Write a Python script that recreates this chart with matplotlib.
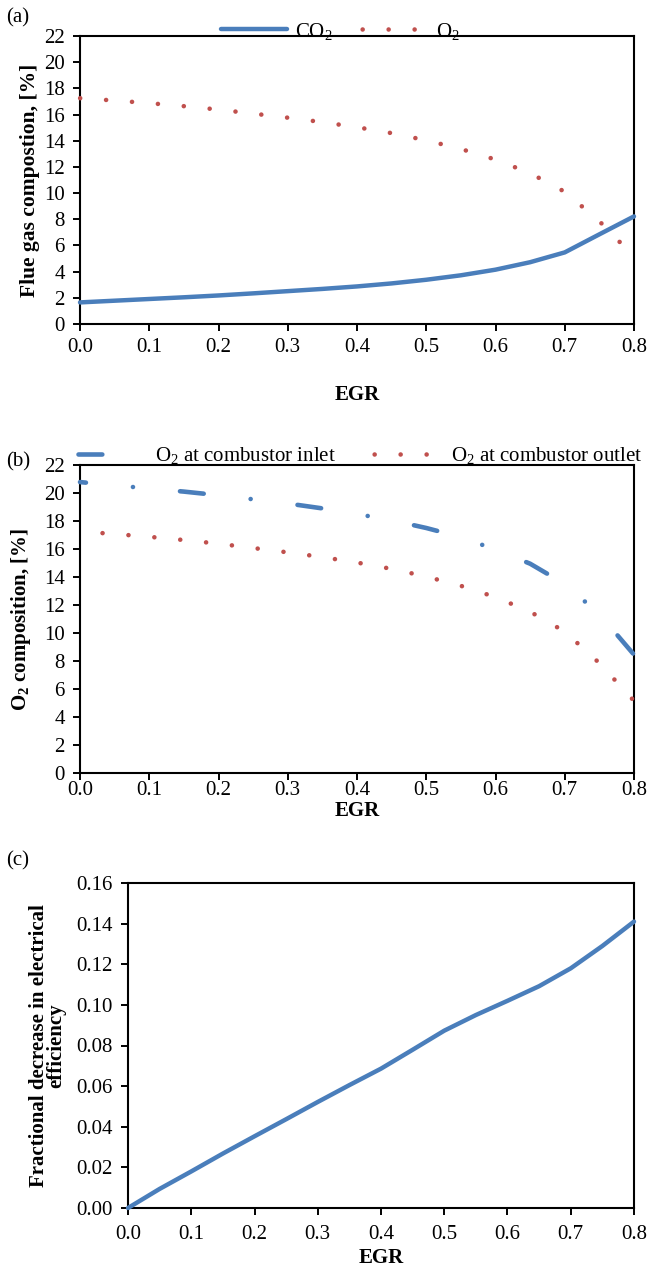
import numpy as np
import matplotlib
matplotlib.use("Agg")
import matplotlib.pyplot as plt
from matplotlib.lines import Line2D

# --- data ---
egr = [0.00, 0.05, 0.10, 0.15, 0.20, 0.25, 0.30, 0.35, 0.40,
       0.45, 0.50, 0.55, 0.60, 0.65, 0.70, 0.75, 0.80]

co2_flue = [1.65, 1.78, 1.91, 2.04, 2.18, 2.34, 2.51, 2.68, 2.87,
            3.10, 3.38, 3.72, 4.15, 4.72, 5.47, 6.85, 8.22]

o2_outlet = [17.25, 17.07, 16.87, 16.64, 16.38, 16.07, 15.76, 15.42, 15.03,
             14.58, 14.03, 13.37, 12.56, 11.52, 10.10, 7.85, 5.15]

o2_inlet = [20.78, 20.55, 20.32, 20.10, 19.84, 19.55, 19.25, 18.90, 18.50,
            18.05, 17.50, 16.85, 15.95, 14.95, 13.50, 11.35, 8.45]

eff_drop = [0.000, 0.0094, 0.0180, 0.0268, 0.0353, 0.0437, 0.0522, 0.0605, 0.0686,
            0.0779, 0.0873, 0.0950, 0.1020, 0.1092, 0.1180, 0.1290, 0.1410]

x_ticks = [0.0, 0.1, 0.2, 0.3, 0.4, 0.5, 0.6, 0.7, 0.8]

# --- style ---
BLUE = '#4A7EBB'
RED = '#C0504D'
FS = 15
plt.rcParams['font.family'] = ['Liberation Serif', 'DejaVu Serif']
plt.rcParams['mathtext.fontset'] = 'custom'
plt.rcParams['mathtext.rm'] = 'Liberation Serif'
plt.rcParams['mathtext.bf'] = 'Liberation Serif:bold'
plt.rcParams['mathtext.it'] = 'Liberation Serif:italic'

W, H = 662, 1271
fig = plt.figure(figsize=(W / 100, H / 100), dpi=100)


def px_axes(left, top, right, bottom):
    return fig.add_axes([left / W, 1 - bottom / H, (right - left) / W, (bottom - top) / H])


def style(ax, xpad):
    for s in ax.spines.values():
        s.set_linewidth(1.5)
    ax.tick_params(direction='out', length=5, width=1.4, labelsize=FS,
                   top=False, right=False)
    ax.tick_params(axis='y', pad=6)
    ax.tick_params(axis='x', pad=xpad)
    ax.set_xlim(0, 0.8)
    ax.set_xticks(x_ticks)
    ax.set_xticklabels([f'{v:.1f}' for v in x_ticks])


# dotted (Excel "round dot") and long-dash-dot patterns, in units of line width
dot_lw = 3.3
dot_gap = 5.66
inlet_lw = 3.3
dash_on, dash_gap = 5.2, 10.3

# --- (a) flue gas composition ---
ax_a = px_axes(80, 36, 634, 324)
style(ax_a, 5)
ax_a.plot(egr, co2_flue, color=BLUE, lw=3.2, solid_capstyle='round', clip_on=False, zorder=3)
ax_a.plot(egr, o2_outlet, color=RED, lw=dot_lw, linestyle=(dot_gap - 0.02, (0.01, dot_gap)),
          dash_capstyle='round', clip_on=False, zorder=3)
ax_a.set_ylim(0, 22)
ax_a.set_yticks(range(0, 23, 2))
ax_a.set_xlabel('EGR', fontsize=FS, fontweight='bold', labelpad=20)
ax_a.set_ylabel('Flue gas compostion, [%]', fontsize=15.5, fontweight='bold')
ax_a.yaxis.set_label_coords(-0.073, 0.5)
fig.text(6 / W, 1 - 18 / H, '(a)', fontsize=FS, va='center', ha='left')

h_co2 = Line2D([], [], color=BLUE, lw=3.2, solid_capstyle='round')
h_o2 = Line2D([], [], color=RED, lw=dot_lw, linestyle=(dot_gap - 0.02, (0.01, dot_gap)),
              dash_capstyle='round')
fig.legend([h_co2, h_o2], ['CO$_2$', 'O$_2$'], loc='center', ncol=2, frameon=False,
           bbox_to_anchor=(340 / W, 1 - 31 / H), fontsize=FS,
           handlelength=3.2, handletextpad=0.35, columnspacing=1.4,
           borderpad=0, borderaxespad=0)

# --- (b) O2 at combustor inlet / outlet ---
ax_b = px_axes(80, 465, 634, 773)
style(ax_b, 0.5)
ax_b.plot(egr, o2_inlet, color=BLUE, lw=inlet_lw,
          linestyle=(3.9, (dash_on, dash_gap, 0.01, dash_gap)),
          dash_capstyle='round', clip_on=False, zorder=3)
ax_b.plot(egr, o2_outlet, color=RED, lw=dot_lw, linestyle=(0.74, (0.01, dot_gap)),
          dash_capstyle='round', clip_on=False, zorder=3)
ax_b.set_ylim(0, 22)
ax_b.set_yticks(range(0, 23, 2))
ax_b.set_xlabel('EGR', fontsize=FS, fontweight='bold', labelpad=1)
ax_b.set_ylabel(r'$\mathbf{O_2}$ composition, [%]', fontsize=FS, fontweight='bold')
ax_b.yaxis.set_label_coords(-0.085, 0.5)
fig.text(6 / W, 1 - 462 / H, '(b)', fontsize=FS, va='center', ha='left')

h_in = Line2D([], [], color=BLUE, lw=inlet_lw,
              linestyle=(0, (dash_on, dash_gap, 0.01, dash_gap)), dash_capstyle='round')
h_out = Line2D([], [], color=RED, lw=dot_lw, linestyle=(dot_gap - 0.02, (0.01, dot_gap)),
               dash_capstyle='round')
fig.legend([h_in, h_out], ['O$_2$ at combustor inlet', 'O$_2$ at combustor outlet'],
           loc='center', ncol=2, frameon=False,
           bbox_to_anchor=(360 / W, 1 - 456 / H), fontsize=FS,
           handlelength=2.9, handletextpad=0.8, columnspacing=1.8,
           borderpad=0, borderaxespad=0)

# --- (c) fractional decrease in electrical efficiency ---
ax_c = px_axes(128, 883, 634, 1208)
style(ax_c, 7)
ax_c.plot(egr, eff_drop, color=BLUE, lw=3.2, solid_capstyle='round', clip_on=False, zorder=3)
ax_c.set_ylim(0, 0.16)
ax_c.set_yticks(np.arange(0, 0.161, 0.02))
ax_c.set_yticklabels([f'{v:.2f}' for v in np.arange(0, 0.161, 0.02)])
ax_c.set_xlabel('EGR', fontsize=FS, fontweight='bold', labelpad=3)
ax_c.set_ylabel('Fractional decrease in electrical\nefficiency', fontsize=FS,
                fontweight='bold', linespacing=0.85)
ax_c.yaxis.set_label_coords(-0.122, 0.5)
fig.text(6 / W, 1 - 861 / H, '(c)', fontsize=FS, va='center', ha='left')

fig.savefig('out.png', dpi=100)
